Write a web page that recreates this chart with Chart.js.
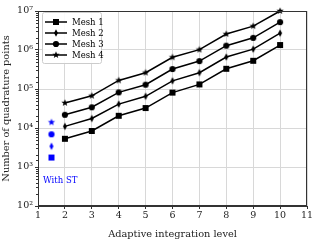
<!DOCTYPE html>
<html><head><meta charset="utf-8">
<script src="https://cdn.jsdelivr.net/npm/chart.js@4"></script>
<style>html,body{margin:0;padding:0;background:#fff}#w{width:320px;height:240px}</style>
</head><body><div id="w"><canvas id="c" width="320" height="240"></canvas></div>
<script>
const levels = [2, 3, 4, 5, 6, 7, 8, 9, 10];
const mesh1 = [5300, 8400, 20600, 32500, 81000, 131000, 330000, 530000, 1340000];
const mesh2 = [11000, 17500, 41000, 65000, 162000, 262000, 660000, 1050000, 2700000];
const mesh3 = [21800, 34000, 82000, 129000, 325000, 520000, 1290000, 2050000, 5200000];
const mesh4 = [44000, 67000, 166000, 262000, 650000, 1020000, 2570000, 4100000, 10000000];
const seriesNames = ['Mesh 1', 'Mesh 2', 'Mesh 3', 'Mesh 4'];
const stLevel = 1.5;
const stValues = [1750, 3400, 6900, 14000];
const stLabel = 'With ST';
const xTitle = 'Adaptive integration level';
const yTitle = 'Number of quadrature points';

const SERIF = '"DejaVu Serif", "Liberation Serif", serif';

function marker(shape, color) {
  const s = 10;
  const c = document.createElement('canvas');
  c.width = s; c.height = s;
  const g = c.getContext('2d');
  g.fillStyle = color;
  g.beginPath();
  const m = s / 2;
  if (shape === 'square') { g.rect(m - 3, m - 3, 6, 6); }
  else if (shape === 'circle') { g.arc(m, m, 3.1, 0, Math.PI * 2); }
  else if (shape === 'diamond') { g.moveTo(m, m - 3.8); g.lineTo(m + 2, m); g.lineTo(m, m + 3.8); g.lineTo(m - 2, m); g.closePath(); }
  else if (shape === 'star') {
    for (let i = 0; i < 10; i++) {
      const r = i % 2 ? 1.6 : 3.8;
      const a = -Math.PI / 2 + i * Math.PI / 5;
      const px = m + r * Math.cos(a), py = m + r * Math.sin(a);
      i ? g.lineTo(px, py) : g.moveTo(px, py);
    }
    g.closePath();
  }
  g.fill();
  return c;
}
const shapes = ['square', 'diamond', 'circle', 'star'];
const blackM = shapes.map(s => marker(s, '#000'));
const blueM = shapes.map(s => marker(s, '#0000ff'));

const allSeries = [mesh1, mesh2, mesh3, mesh4];
const datasets = allSeries.map((vals, i) => ({
  label: seriesNames[i],
  data: levels.map((x, j) => ({ x: x, y: vals[j] })),
  borderColor: '#000', backgroundColor: '#000', borderWidth: 1.5,
  pointStyle: blackM[i], pointRadius: 3, pointHoverRadius: 3, showLine: true, tension: 0,
  clip: false
}));
datasets.push({
  label: stLabel,
  data: stValues.map(v => ({ x: stLevel, y: v })),
  showLine: false, pointStyle: blueM, pointRadius: 3, borderColor: '#00f', backgroundColor: '#00f'
});

const isMajor = v => Math.abs(Math.log10(v) - Math.round(Math.log10(v))) < 1e-9;
const sup = { '0': '⁰', '1': '¹', '2': '²', '3': '³', '4': '⁴', '5': '⁵', '6': '⁶', '7': '⁷', '8': '⁸', '9': '⁹' };

const extras = {
  id: 'extras',
  afterDraw(chart) {
    const g = chart.ctx, a = chart.chartArea, ys = chart.scales.y;
    g.save();
    g.strokeStyle = '#333'; g.lineWidth = 1;
    g.strokeRect(a.left + 0.5, a.top + 0.5, a.right - a.left - 1, a.bottom - a.top - 1);
    g.beginPath();
    ys.ticks.forEach(t => {
      if (!isMajor(t.value)) {
        const py = Math.round(ys.getPixelForValue(t.value)) + 0.5;
        g.moveTo(a.left - 2, py); g.lineTo(a.left, py);
      }
    });
    g.stroke();
    g.fillStyle = '#0000ff';
    g.font = '8.5px ' + SERIF;
    g.textBaseline = 'middle';
    g.fillText(stLabel, 43, 181);
    const lx = 42, ly = 12, lw = 59, lh = 51;
    g.fillStyle = 'rgba(255,255,255,0.9)';
    g.strokeStyle = '#ccc';
    g.beginPath(); g.roundRect(lx + 0.5, ly + 0.5, lw, lh, 2); g.fill(); g.stroke();
    seriesNames.forEach((n, i) => {
      const y = 22 + i * 11;
      g.strokeStyle = '#000'; g.lineWidth = 1.5;
      g.beginPath(); g.moveTo(45, y); g.lineTo(67, y); g.stroke();
      g.drawImage(blackM[i], 56 - 5, y - 5);
      g.fillStyle = '#000'; g.font = '8.5px ' + SERIF; g.textBaseline = 'middle';
      g.fillText(n, 72, y + 0.5);
    });
    g.restore();
  }
};

new Chart(document.getElementById('c'), {
  type: 'scatter',
  data: { datasets },
  plugins: [extras],
  options: {
    responsive: false, animation: false,
    layout: { padding: { top: 11, right: 13, left: 0, bottom: 0 } },
    plugins: { legend: { display: false }, tooltip: { enabled: false } },
    scales: {
      x: {
        type: 'linear', min: 1, max: 11,
        ticks: { stepSize: 1, color: '#222', font: { family: SERIF, size: 9.5 }, padding: 1, maxRotation: 0 },
        grid: { color: '#d8d8d8', tickColor: '#333', tickLength: 3 },
        border: { color: '#333' },
        title: { display: true, text: xTitle, color: '#222', font: { family: SERIF, size: 9.8 }, padding: { top: 2, bottom: 0 } },
        afterFit(s) { s.height = 34; }
      },
      y: {
        type: 'logarithmic', min: 100, max: 1e7,
        ticks: {
          autoSkip: false, color: '#222', font: { family: SERIF, size: 9.5 }, padding: 2,
          callback(v) { return isMajor(v) ? '10' + String(Math.round(Math.log10(v))).split('').map(d => sup[d]).join('') : ''; }
        },
        grid: {
          color: ctx => (ctx.tick && isMajor(ctx.tick.value)) ? '#d8d8d8' : 'rgba(0,0,0,0)',
          tickColor: ctx => (ctx.tick && isMajor(ctx.tick.value)) ? '#333' : 'rgba(0,0,0,0)',
          tickLength: 3
        },
        border: { color: '#333' },
        title: { display: true, text: yTitle, color: '#222', font: { family: SERIF, size: 9.8 }, padding: { top: 1, bottom: 1 } },
        afterFit(s) { s.width = 38; }
      }
    }
  }
});
</script>
</body></html>
